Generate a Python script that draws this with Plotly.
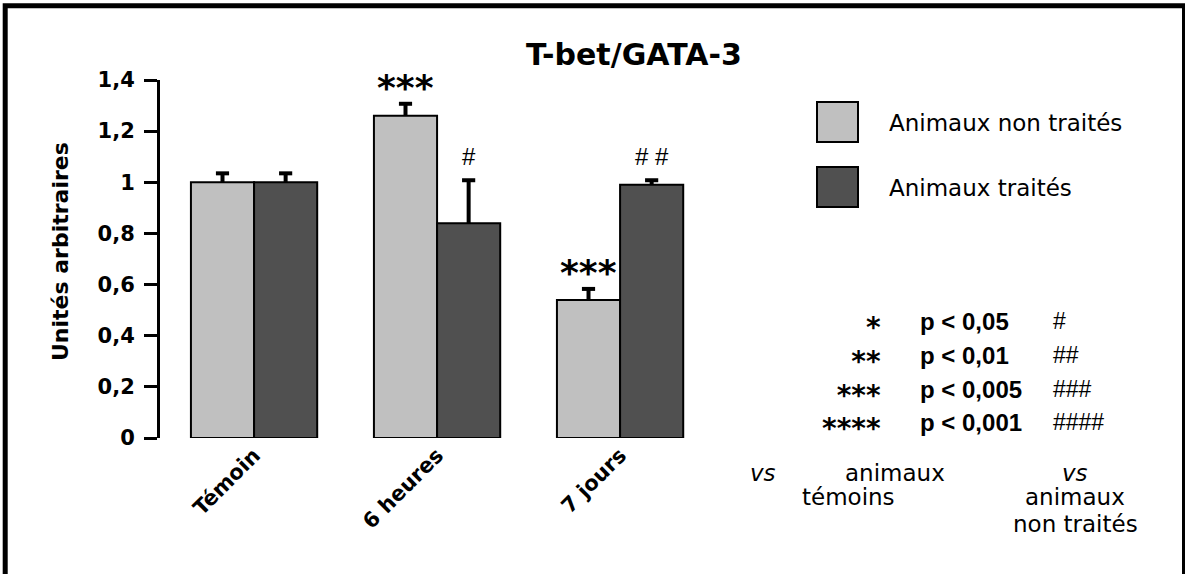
import plotly.graph_objects as go

# data
categories = ["Témoin", "6 heures", "7 jours"]
non_traites = [1.0, 1.26, 0.54]
non_traites_err = [0.035, 0.047, 0.043]
traites = [1.0, 0.84, 0.99]
traites_err = [0.035, 0.168, 0.018]
stars_non_traites = ["", "***", "***"]
hash_traites = ["", "#", "# #"]

y_ticks = [0, 0.2, 0.4, 0.6, 0.8, 1.0, 1.2, 1.4]
y_labels = ["0", "0,2", "0,4", "0,6", "0,8", "1", "1,2", "1,4"]

key_stars = ["*", "**", "***", "****"]
key_p = ["p < 0,05", "p < 0,01", "p < 0,005", "p < 0,001"]
key_hash = ["#", "##", "###", "####"]

LIGHT = "#c0c0c0"
DARK = "#505050"
SANS = "DejaVu Sans"
ARIAL = "Liberation Sans"

W, H = 1185, 574
L, R, T, B = 160, 465, 80, 136


def px(x):
    return (x - L) / (W - L - R)


def py(y):
    return (H - B - y) / (H - T - B)


xs = list(range(len(categories)))
bar_off = 0.1725
bar_line = dict(color="black", width=2)


def err_lines(offset, vals, errs, cw=0.036):
    # upward-only error bars: stem from bar top plus a cap
    ex, ey = [], []
    for i, v, e in zip(xs, vals, errs):
        x = i + offset
        ex += [x, x, None, x - cw, x + cw, None]
        ey += [v, v + e, None, v + e, v + e, None]
    return ex, ey


fig = go.Figure()
fig.add_trace(go.Bar(x=xs, y=non_traites, name="Animaux non traités",
                     marker=dict(color=LIGHT, line=bar_line)))
fig.add_trace(go.Bar(x=xs, y=traites, name="Animaux traités",
                     marker=dict(color=DARK, line=bar_line)))
for off, vals, errs in [(-bar_off, non_traites, non_traites_err),
                        (bar_off, traites, traites_err)]:
    ex, ey = err_lines(off, vals, errs)
    fig.add_trace(go.Scatter(x=ex, y=ey, mode="lines", hoverinfo="skip",
                             line=dict(color="black", width=4)))

ann = []
for i in xs:
    if stars_non_traites[i]:
        ann.append(dict(x=i - bar_off, y=non_traites[i] + non_traites_err[i],
                        xref="x", yref="y", text="<b>" + stars_non_traites[i] + "</b>",
                        showarrow=False, xanchor="center", yanchor="bottom", yshift=-6,
                        font=dict(family=SANS, size=36, color="black")))
    if hash_traites[i]:
        ann.append(dict(x=i + bar_off, y=traites[i] + traites_err[i],
                        xref="x", yref="y", text=hash_traites[i],
                        showarrow=False, xanchor="center", yanchor="bottom", yshift=8,
                        font=dict(family=ARIAL, size=24, color="black")))

# title and y-axis title
ann.append(dict(x=px(634), y=py(54), xref="paper", yref="paper",
                text="<b>T-bet/GATA-3</b>", showarrow=False,
                xanchor="center", yanchor="middle",
                font=dict(family=SANS, size=30, color="black")))
ann.append(dict(x=px(60), y=py(252), xref="paper", yref="paper",
                text="<b>Unités arbitraires</b>", showarrow=False, textangle=-90,
                xanchor="center", yanchor="middle",
                font=dict(family=SANS, size=22, color="black")))

# legend
legend_items = [("Animaux non traités", LIGHT, 122), ("Animaux traités", DARK, 187)]
shapes = []
for label, col, yc in legend_items:
    shapes.append(dict(type="rect", xref="paper", yref="paper",
                       x0=px(817), x1=px(858), y0=py(yc - 20), y1=py(yc + 20),
                       fillcolor=col, line=dict(color="black", width=2)))
    ann.append(dict(x=px(887), y=py(yc + 1), xref="paper", yref="paper",
                    text=label, showarrow=False, xanchor="left", yanchor="middle",
                    font=dict(family=SANS, size=23, color="black")))

# significance key: one multi-line text per column, 26px line base -> ~34px rows
key_mid = 372
stars_txt = "<br>".join('<span style="font-size:28px"><b>%s</b></span>' % s for s in key_stars)
p_txt = "<br>".join('<span style="font-size:24px"><b>%s</b></span>' % s for s in key_p)
hash_txt = "<br>".join('<span style="font-size:23px">%s</span>' % s for s in key_hash)
ann.append(dict(x=px(883), y=py(key_mid), xref="paper", yref="paper",
                text=stars_txt, showarrow=False, xanchor="right", yanchor="middle",
                align="right", yshift=-6,
                font=dict(family=SANS, size=26, color="black")))
ann.append(dict(x=px(918), y=py(key_mid), xref="paper", yref="paper",
                text=p_txt, showarrow=False, xanchor="left", yanchor="middle",
                align="left",
                font=dict(family=ARIAL, size=26, color="black")))
ann.append(dict(x=px(1051), y=py(key_mid - 1), xref="paper", yref="paper",
                text=hash_txt, showarrow=False, xanchor="left", yanchor="middle",
                align="left",
                font=dict(family=ARIAL, size=26, color="black")))

# bottom notes
notes = [
    ("<i>vs</i>", 748, 473, "left"),
    ("animaux", 895, 473, "center"),
    ("témoins", 848, 497, "center"),
    ("<i>vs</i>", 1075, 473, "center"),
    ("animaux", 1075, 497, "center"),
    ("non traités", 1075, 524, "center"),
]
for txt, xx, yy, anc in notes:
    ann.append(dict(x=px(xx), y=py(yy), xref="paper", yref="paper",
                    text=txt, showarrow=False, xanchor=anc, yanchor="middle",
                    font=dict(family=SANS, size=23, color="black")))

# outer frame
shapes.append(dict(type="rect", xref="paper", yref="paper",
                   x0=px(5.2), x1=px(1184.5), y0=py(600), y1=py(5.8),
                   line=dict(color="black", width=5)))

fig.update_layout(
    width=W, height=H,
    margin=dict(l=L, r=R, t=T, b=B, autoexpand=False),
    barmode="group", bargap=0.31, bargroupgap=0,
    showlegend=False,
    plot_bgcolor="white", paper_bgcolor="white",
    annotations=ann, shapes=shapes,
    xaxis=dict(range=[-0.514, 2.546], tickvals=xs, ticktext=categories,
               tickangle=-45, showline=False, showgrid=False, zeroline=False,
               ticks="", tickfont=dict(family=SANS, size=21, color="black", weight="bold")),
    yaxis=dict(range=[0, 1.4], tickvals=y_ticks, ticktext=y_labels,
               showline=True, linewidth=3, linecolor="black",
               ticks="outside", ticklen=13, tickwidth=3, tickcolor="black",
               ticklabelstandoff=5,
               showgrid=False, zeroline=False,
               tickfont=dict(family=SANS, size=21, color="black", weight="bold")),
)

fig.write_html("out.html", config={"displayModeBar": False},
               post_script="document.body.style.margin='0';")
